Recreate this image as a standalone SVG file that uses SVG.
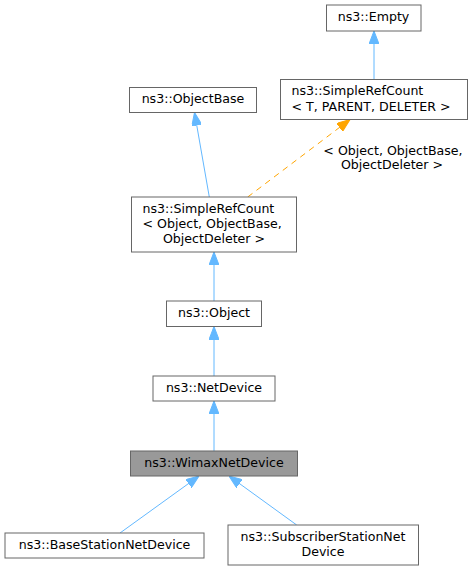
<svg xmlns="http://www.w3.org/2000/svg" width="473" height="571" viewBox="0 0 473 571">
<style>
  .node rect { fill: #ffffff; stroke: #666666; stroke-width: 1; }
  .node.current rect { fill: #999999; stroke: #666666; }
  text { font-family: "DejaVu Sans", "Liberation Sans", sans-serif; font-size: 12.6px; fill: #000000; }
  .c { text-anchor: middle; }
  .edge { stroke: #63b8ff; stroke-width: 1; fill: none; marker-end: url(#arrowBlue); }
  .edge.tmpl { stroke: #ffa500; stroke-dasharray: 6,5; marker-end: url(#arrowOrange); }
</style>
<defs>
  <marker id="arrowBlue" viewBox="0 0 13 10" refX="13" refY="5" markerWidth="13" markerHeight="10" markerUnits="userSpaceOnUse" orient="auto">
    <path d="M0,0 L13,5 L0,10 z" fill="#63b8ff" stroke="#63b8ff" stroke-width="1"/>
  </marker>
  <marker id="arrowOrange" viewBox="0 0 13 10" refX="13" refY="5" markerWidth="13" markerHeight="10" markerUnits="userSpaceOnUse" orient="auto">
    <path d="M0,0 L13,5 L0,10 z" fill="#ffa500" stroke="#ffa500" stroke-width="1"/>
  </marker>
</defs>
<rect x="0" y="0" width="473" height="571" fill="#ffffff"/>
<g id="connectors">
  <line class="edge" x1="374" y1="79.5" x2="374" y2="31"/>
  <line class="edge" x1="209.3" y1="197" x2="194.5" y2="112.5"/>
  <line class="edge tmpl" x1="247.7" y1="197" x2="350" y2="119.5"/>
  <line class="edge" x1="214" y1="301" x2="214" y2="252"/>
  <line class="edge" x1="214" y1="376" x2="214" y2="326.5"/>
  <line class="edge" x1="214" y1="451" x2="214" y2="401"/>
  <line class="edge" x1="120" y1="533" x2="199" y2="476"/>
  <line class="edge" x1="296.7" y1="525" x2="229" y2="476"/>
  <text class="c" x="393" y="155">&lt; Object, ObjectBase,</text>
  <text class="c" x="392" y="168.5">ObjectDeleter &gt;</text>
</g>
<g id="node-empty" class="node">
  <rect x="326.5" y="5" width="94.5" height="26"/>
  <text class="c" x="373.5" y="21">ns3::Empty</text>
</g>
<g id="node-simplerefcount-t" class="node">
  <rect x="280.5" y="79.5" width="187" height="40"/>
  <text x="291.5" y="95">ns3::SimpleRefCount</text>
  <text x="291.5" y="111">&lt; T, PARENT, DELETER &gt;</text>
</g>
<g id="node-objectbase" class="node">
  <rect x="129.5" y="87.5" width="127" height="25"/>
  <text class="c" x="193" y="103">ns3::ObjectBase</text>
</g>
<g id="node-simplerefcount-object" class="node">
  <rect x="131.5" y="197" width="165" height="55"/>
  <text x="142.5" y="213">ns3::SimpleRefCount</text>
  <text x="142.5" y="228">&lt; Object, ObjectBase,</text>
  <text class="c" x="214" y="243">ObjectDeleter &gt;</text>
</g>
<g id="node-object" class="node">
  <rect x="166.5" y="301" width="95" height="25.5"/>
  <text class="c" x="214" y="317">ns3::Object</text>
</g>
<g id="node-netdevice" class="node">
  <rect x="153" y="376" width="122" height="25"/>
  <text class="c" x="214" y="392">ns3::NetDevice</text>
</g>
<g id="node-wimaxnetdevice" class="node current">
  <rect x="130.5" y="451" width="167" height="25"/>
  <text class="c" x="214" y="467">ns3::WimaxNetDevice</text>
</g>
<g id="node-basestationnetdevice" class="node">
  <rect x="5" y="533" width="199" height="25"/>
  <text class="c" x="104.5" y="549">ns3::BaseStationNetDevice</text>
</g>
<g id="node-subscriberstationnetdevice" class="node">
  <rect x="228" y="525" width="190.5" height="40"/>
  <text class="c" x="323" y="541">ns3::SubscriberStationNet</text>
  <text class="c" x="323" y="556">Device</text>
</g>
</svg>
